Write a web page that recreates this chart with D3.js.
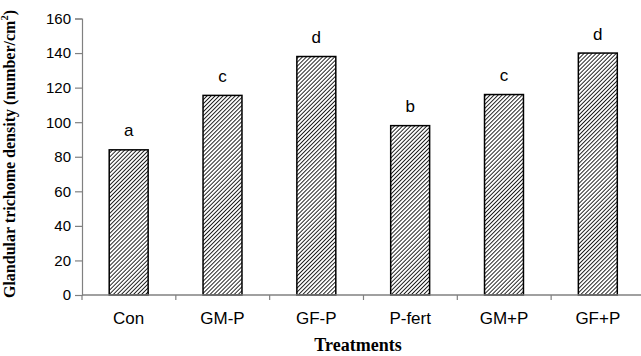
<!DOCTYPE html>
<html lang="en">
<head>
<meta charset="UTF-8">
<title>Glandular trichome density</title>
<script src="https://cdn.jsdelivr.net/npm/d3@7"></script>
<style>
  body, html { margin: 0; background: #fff; }
  svg { display: block; }
</style>
</head>
<body>
<svg width="641" height="356"></svg>
<script>
const treatments = ["Con", "GM-P", "GF-P", "P-fert", "GM+P", "GF+P"];
const density = [84, 115.5, 138, 98, 116, 140];
const letters = ["a", "c", "d", "b", "c", "d"];
const yTicks = [0, 20, 40, 60, 80, 100, 120, 140, 160];

(function(){
const svg = d3.select("svg");
const left = 82, bottom = 295, topY = 18.5;
const sans = "Liberation Sans, Arial, sans-serif", serif = "Liberation Serif, Times New Roman, serif";

const x = d3.scaleBand().domain(treatments).range([left, left + 93.75 * 6]).paddingInner(0.585).paddingOuter(0.29);
const y = d3.scaleLinear().domain([0, 160]).range([bottom, topY]);

// hatch pattern
const p = 2.85;
const pat = svg.append("defs").append("pattern").attr("id", "hatch").attr("patternUnits", "userSpaceOnUse")
  .attr("width", p).attr("height", p).attr("patternTransform", "rotate(45)");
pat.append("rect").attr("width", p).attr("height", p).attr("fill", "#fff");
pat.append("line").attr("x1", 0).attr("y1", 0).attr("x2", 0).attr("y2", p)
  .attr("stroke", "#111").attr("stroke-width", 1.8);

// y axis
const yAxis = svg.append("g").attr("transform", `translate(${left},0)`)
  .call(d3.axisLeft(y).tickValues(yTicks).tickSize(7).tickPadding(4));
yAxis.select(".domain").attr("stroke", "#808080").attr("stroke-width", 1.2);
yAxis.selectAll(".tick line").attr("stroke", "#808080").attr("stroke-width", 1.2);
yAxis.selectAll(".tick text").attr("font-family", sans).attr("font-size", 15).attr("fill", "#000");

// bars
svg.append("g").selectAll("rect").data(treatments).join("rect")
  .attr("x", d => x(d)).attr("width", x.bandwidth())
  .attr("y", (d, i) => y(density[i])).attr("height", (d, i) => bottom - y(density[i]))
  .attr("fill", "url(#hatch)").attr("stroke", "#000").attr("stroke-width", 1.5);

// x axis
svg.append("line").attr("x1", left).attr("x2", 641).attr("y1", bottom).attr("y2", bottom)
  .attr("stroke", "#808080").attr("stroke-width", 1.4);
svg.append("g").selectAll("line").data(treatments).join("line")
  .attr("x1", d => x(d) - x.step() * x.paddingOuter()).attr("x2", d => x(d) - x.step() * x.paddingOuter())
  .attr("y1", bottom).attr("y2", bottom + 5)
  .attr("stroke", "#808080").attr("stroke-width", 1.2);
svg.append("g").selectAll("text").data(treatments).join("text")
  .attr("x", d => x(d) + x.bandwidth() / 2).attr("y", 324)
  .attr("text-anchor", "middle").attr("font-family", sans)
  .attr("font-size", 17).text(d => d);

// significance letters
svg.append("g").selectAll("text").data(treatments).join("text")
  .attr("x", d => x(d) + x.bandwidth() / 2).attr("y", (d, i) => y(density[i]) - 13.5)
  .attr("text-anchor", "middle").attr("font-family", sans)
  .attr("font-size", 17).text((d, i) => letters[i]);

// axis titles
svg.append("text").attr("x", 358).attr("y", 351).attr("text-anchor", "middle")
  .attr("font-family", serif).attr("font-weight", "bold")
  .attr("font-size", 18).text("Treatments");
const yt = svg.append("text").attr("transform", "translate(15,154) rotate(-90)").attr("text-anchor", "middle")
  .attr("font-family", serif).attr("font-weight", "bold")
  .attr("font-size", 16);
yt.append("tspan").text("Glandular trichome density (number/cm");
yt.append("tspan").attr("font-size", 10.5).attr("dy", -7).text("2");
yt.append("tspan").attr("dy", 7).text(")");
})();
</script>
</body>
</html>
